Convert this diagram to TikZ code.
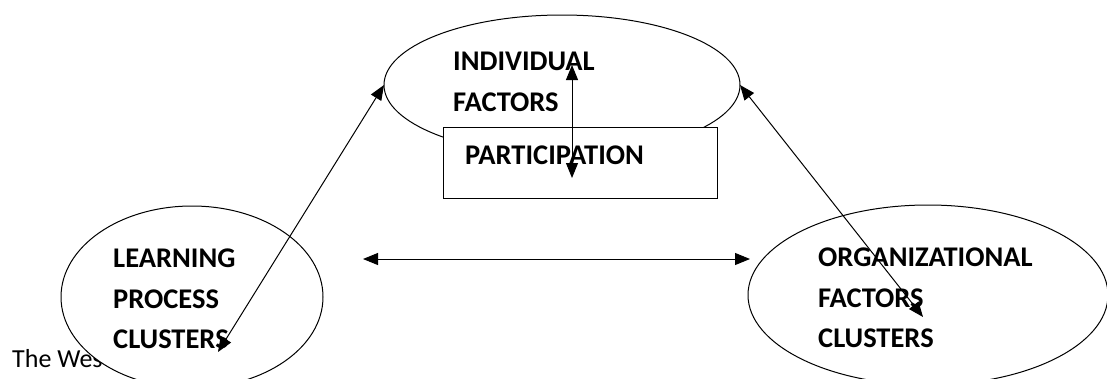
\documentclass[tikz,border=0pt]{standalone}
\usepackage{fontspec}
\setmainfont{Carlito}
\usetikzlibrary{shapes.geometric,arrows.meta}

\begin{document}
\begin{tikzpicture}[x=1pt, y=-1pt,
    blob/.style={draw, ellipse, fill=white, line width=1pt, inner sep=0pt, outer sep=0pt},
    box/.style={draw, rectangle, fill=white, line width=1pt, inner sep=0pt, outer sep=0pt},
    label/.style={anchor=west, inner sep=0pt, align=left, font=\bfseries\fontsize{28.5}{40.5}\selectfont},
    link/.style={line width=1pt, {Triangle[length=15pt,width=12pt]}-{Triangle[length=15pt,width=12pt]}}]
    \useasboundingbox (0,0) rectangle (1107,378);

    \node[anchor=base west, inner sep=0pt, font=\fontsize{26}{30}\selectfont] (west) at (12,367) {The Wes};

    \node[blob, minimum width=262pt, minimum height=182pt] (learn) at (192,297) {};
    \node[blob, minimum width=360pt, minimum height=180pt] (org) at (928,295) {};
    \node[blob, minimum width=356pt, minimum height=140pt] (indiv) at (562,85) {};
    \node[box, minimum width=274pt, minimum height=71pt] (part) at (580,162.5) {};

    \node[label] (indivtext) at (453,82) {INDIVIDUAL\\FACTORS};
    \node[label] (parttext) at (465,155) {PARTICIPATION};
    \node[label] (learntext) at (113,299) {LEARNING\\PROCESS\\CLUSTERS};
    \node[label] (orgtext) at (818,298) {ORGANIZATIONAL\\FACTORS\\CLUSTERS};

    \coordinate (learnend) at (218,352);
    \coordinate (orgend) at (923,317);
    \coordinate (midleft) at (363,259);
    \coordinate (midright) at (750,259);
    \coordinate (upend) at (572,65);
    \coordinate (downend) at (572,178);

    \draw[link] (indiv.west) -- (learnend);
    \draw[link] (indiv.east) -- (orgend);
    \draw[link] (midleft) -- (midright);
    \draw[link] (upend) -- (downend);
\end{tikzpicture}
\end{document}
